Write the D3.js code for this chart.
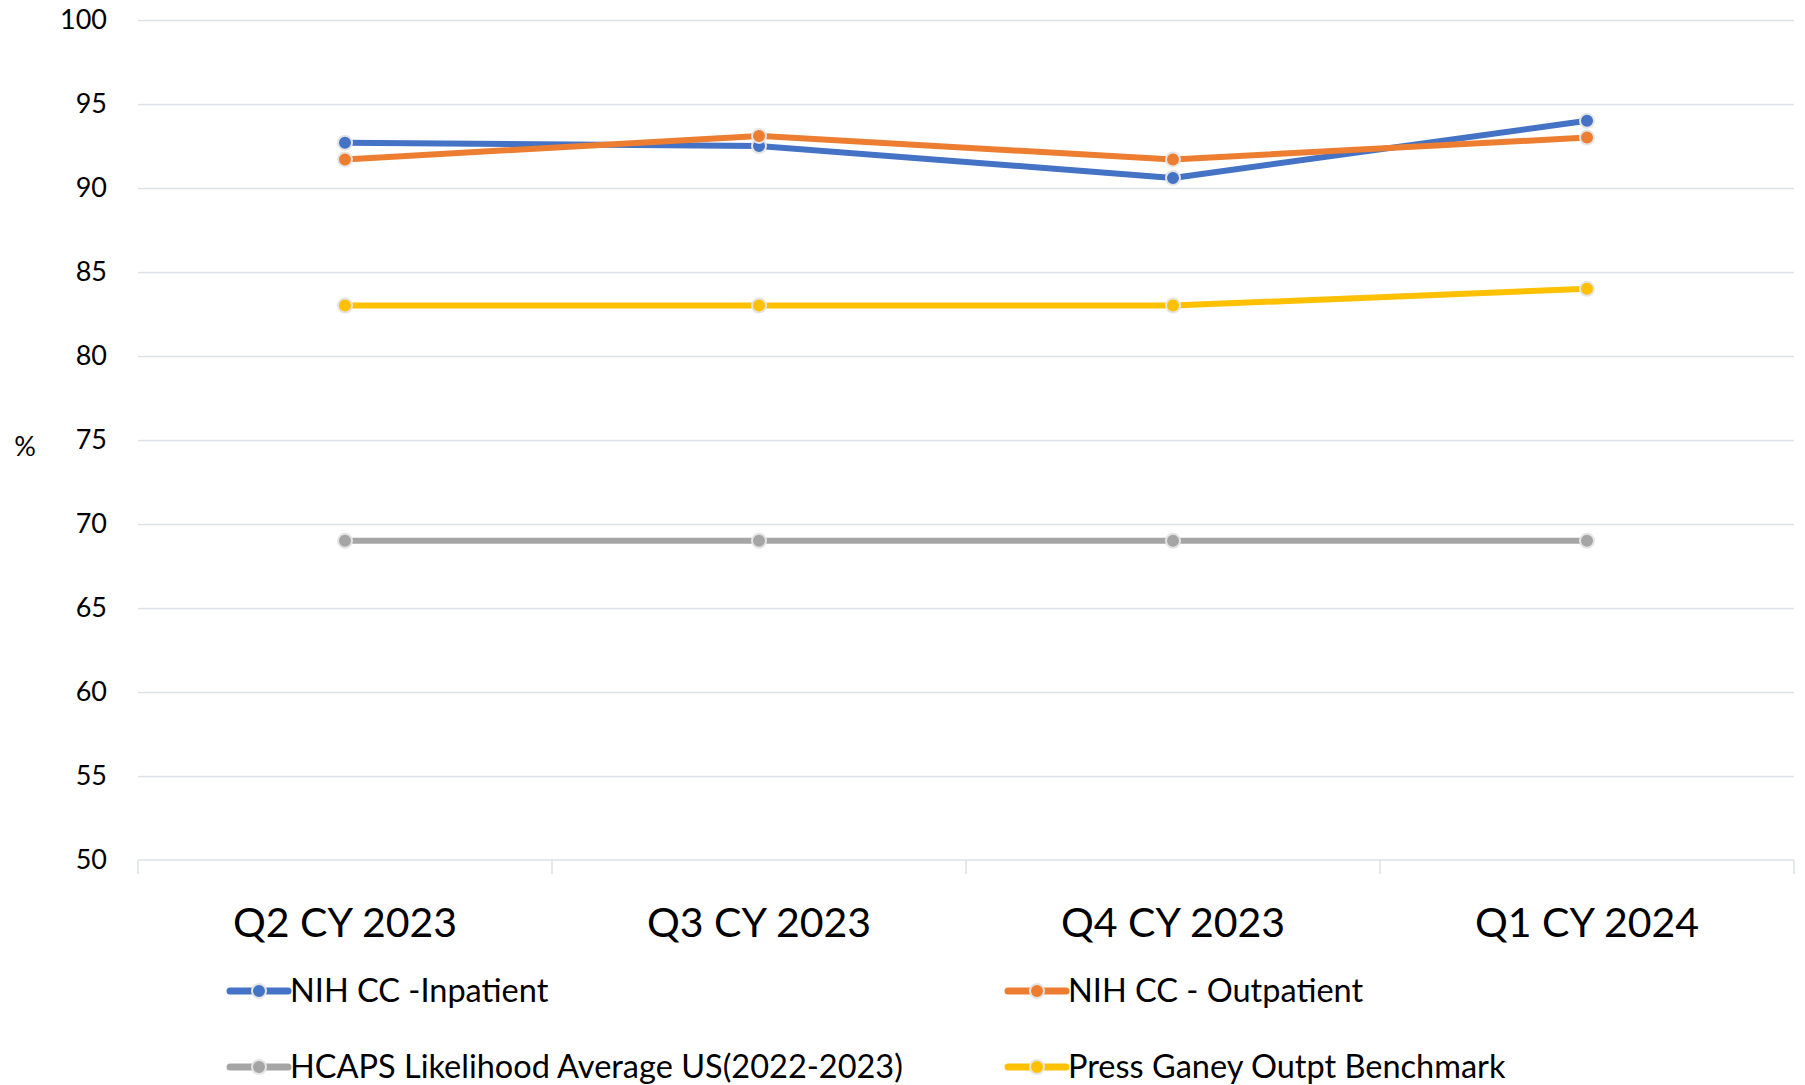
<!DOCTYPE html>
<html>
<head>
<meta charset="utf-8">
<script src="https://cdn.jsdelivr.net/npm/d3@7"></script>
<style>
  body { margin: 0; background: #fff; }
  svg { display: block; }
</style>
</head>
<body>
<div class="chart"></div>
<script>
var categories = ["Q2 CY 2023", "Q3 CY 2023", "Q4 CY 2023", "Q1 CY 2024"]
var inpatient = [92.7, 92.5, 90.6, 94.0]
var outpatient = [91.7, 93.1, 91.7, 93.0]
var hcaps = [69, 69, 69, 69]
var pressGaney = [83, 83, 83, 84]
var yTicks = [50, 55, 60, 65, 70, 75, 80, 85, 90, 95, 100]

var seriesNames = ["NIH CC -Inpatient", "NIH CC - Outpatient",
  "HCAPS Likelihood Average US(2022-2023)", "Press Ganey Outpt Benchmark"]
var seriesValues = [inpatient, outpatient, hcaps, pressGaney]
var colors = ["#4472C4", "#ED7D31", "#A5A5A5", "#FFC000"]

var font = "Lato, 'Open Sans', sans-serif"
var gridColor = "#dde1e7"

var W = 1805, H = 1085
var plotLeft = 138, plotRight = 1794, plotTop = 20, plotBottom = 860

var svg = d3.select(".chart")
    .append("svg")
    .attr("width", W)
    .attr("height", H)

var x = d3.scaleBand()
    .domain(categories)
    .range([plotLeft, plotRight])
    .padding(0)

var y = d3.scaleLinear()
    .domain([50, 100])
    .range([plotBottom, plotTop])

// gridlines
svg.append("g")
    .attr("transform", "translate(" + plotLeft + ",0)")
    .call(d3.axisLeft(y).tickValues(yTicks.slice(1)).tickSize(-(plotRight - plotLeft)).tickFormat(""))
    .call(g => g.select(".domain").remove())
    .selectAll("line")
    .style("stroke", gridColor)
    .style("stroke-width", 1.5)

// y labels
svg.append("g")
    .attr("transform", "translate(" + plotLeft + ",0)")
    .call(d3.axisLeft(y).tickValues(yTicks).tickSize(0).tickPadding(31))
    .call(g => g.select(".domain").remove())
    .selectAll("text")
    .style("font-size", "27px")
    .style("font-family", font)
    .attr("fill", "#000")

// x axis line and category tick marks
svg.append("line")
    .attr("x1", plotLeft)
    .attr("x2", plotRight)
    .attr("y1", plotBottom)
    .attr("y2", plotBottom)
    .style("stroke", gridColor)
    .style("stroke-width", 1.5)

var edges = categories.map(c => x(c)).concat([x.range()[1]])
svg.selectAll(".xtick")
    .data(edges)
    .enter()
    .append("line")
    .attr("x1", d => d)
    .attr("x2", d => d)
    .attr("y1", plotBottom)
    .attr("y2", plotBottom + 14)
    .style("stroke", gridColor)
    .style("stroke-width", 1.5)

svg.selectAll(".xlabel")
    .data(categories)
    .enter()
    .append("text")
    .attr("x", d => x(d) + x.bandwidth() / 2)
    .attr("y", 937)
    .attr("text-anchor", "middle")
    .text(d => d)
    .style("font-size", "41px")
    .style("font-family", font)
    .attr("fill", "#000")

// y title
svg.append("text")
    .attr("x", 25)
    .attr("y", 456)
    .attr("text-anchor", "middle")
    .text("%")
    .style("font-size", "27px")
    .style("font-family", font)
    .attr("fill", "#000")

var line = d3.line()
    .x((d, i) => x(categories[i]) + x.bandwidth() / 2)
    .y(d => y(d))

seriesValues.forEach((vals, s) => {
    svg.append("path")
        .datum(vals)
        .attr("d", line)
        .attr("fill", "none")
        .style("stroke", colors[s])
        .style("stroke-width", 6)
        .style("stroke-linejoin", "round")

    svg.selectAll(".pt" + s)
        .data(vals)
        .enter()
        .append("circle")
        .attr("cx", (d, i) => x(categories[i]) + x.bandwidth() / 2)
        .attr("cy", d => y(d))
        .attr("r", 7)
        .style("fill", colors[s])
        .style("stroke", "#e4e4e4")
        .style("stroke-width", 2)
})

// legend
var legendX = [230, 1008]
var legendY = [991, 1067]
seriesNames.forEach((name, s) => {
    var lx = legendX[s % 2]
    var ly = legendY[Math.floor(s / 2)]
    var g = svg.append("g").attr("transform", "translate(" + lx + "," + ly + ")")
    g.append("line")
        .attr("x1", 0)
        .attr("x2", 58)
        .attr("y1", 0)
        .attr("y2", 0)
        .style("stroke", colors[s])
        .style("stroke-width", 7)
        .style("stroke-linecap", "round")
    g.append("circle")
        .attr("cx", 29)
        .attr("cy", 0)
        .attr("r", 7)
        .style("fill", colors[s])
        .style("stroke", "#e4e4e4")
        .style("stroke-width", 2)
    g.append("text")
        .attr("x", 60)
        .attr("y", 11)
        .text(name)
        .style("font-size", "32.5px")
        .style("font-family", font)
        .attr("fill", "#000")
})
</script>
</body>
</html>
